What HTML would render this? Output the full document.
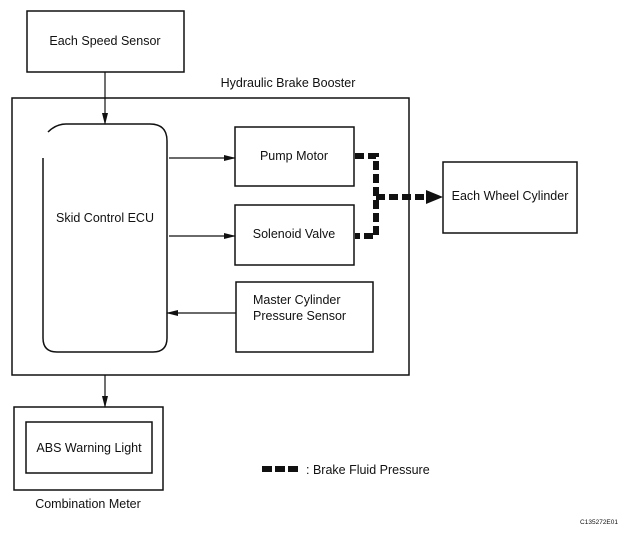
<!DOCTYPE html>
<html><head><meta charset="utf-8"><style>
body{margin:0;background:#fff}
svg text{font-family:"Liberation Sans",sans-serif;fill:#111}
</style></head><body>
<svg width="626" height="531" viewBox="0 0 626 531" xmlns="http://www.w3.org/2000/svg">
<defs><marker id="a" markerWidth="12" markerHeight="8" refX="11" refY="4" orient="auto" markerUnits="userSpaceOnUse"><path d="M0,1 L12,4 L0,7 z" fill="#111"/></marker></defs>
<g fill="none" stroke="#111" stroke-width="1.5">
<rect x="27" y="11" width="157" height="61"/>
<rect x="12" y="98" width="397" height="277"/>
<path d="M48,132 Q56,124 66,124 L150,124 Q167,124 167,141 L167,338 Q167,352 153,352 L57,352 Q43,352 43,338 L43,158"/>
<rect x="235" y="127" width="119" height="59"/>
<rect x="235" y="205" width="119" height="60"/>
<rect x="236" y="282" width="137" height="70"/>
<rect x="443" y="162" width="134" height="71"/>
<rect x="14" y="407" width="149" height="83"/>
<rect x="26" y="422" width="126" height="51"/>
</g>
<g stroke="#111" stroke-width="1.2" fill="none">
<line x1="105" y1="72" x2="105" y2="124" marker-end="url(#a)"/>
<line x1="169" y1="158" x2="235" y2="158" marker-end="url(#a)"/>
<line x1="169" y1="236" x2="235" y2="236" marker-end="url(#a)"/>
<line x1="236" y1="313" x2="167" y2="313" marker-end="url(#a)"/>
<line x1="105" y1="375" x2="105" y2="407" marker-end="url(#a)"/>
</g>
<g stroke="#111" stroke-width="6" fill="none" stroke-dasharray="9,4">
<path d="M355,156 L376,156 L376,236 L355,236"/>
<line x1="376" y1="197" x2="428" y2="197"/>
</g>
<line x1="262" y1="469" x2="298" y2="469" stroke="#111" stroke-width="6" stroke-dasharray="10,3"/>
<path d="M426,190 L443,197 L426,204 z" fill="#111"/>
<g font-size="12.5">
<text x="105" y="45" text-anchor="middle">Each Speed Sensor</text>
<text x="288" y="87" text-anchor="middle">Hydraulic Brake Booster</text>
<text x="105" y="222" text-anchor="middle">Skid Control ECU</text>
<text x="294" y="160" text-anchor="middle">Pump Motor</text>
<text x="294" y="238" text-anchor="middle">Solenoid Valve</text>
<text x="253" y="304">Master Cylinder</text>
<text x="253" y="320">Pressure Sensor</text>
<text x="510" y="200" text-anchor="middle">Each Wheel Cylinder</text>
<text x="89" y="452" text-anchor="middle">ABS Warning Light</text>
<text x="88" y="508" text-anchor="middle">Combination Meter</text>
<text x="306" y="474">: Brake Fluid Pressure</text>
</g>
<text x="618" y="524" font-size="6.5" text-anchor="end">C135272E01</text>
</svg>
</body></html>
